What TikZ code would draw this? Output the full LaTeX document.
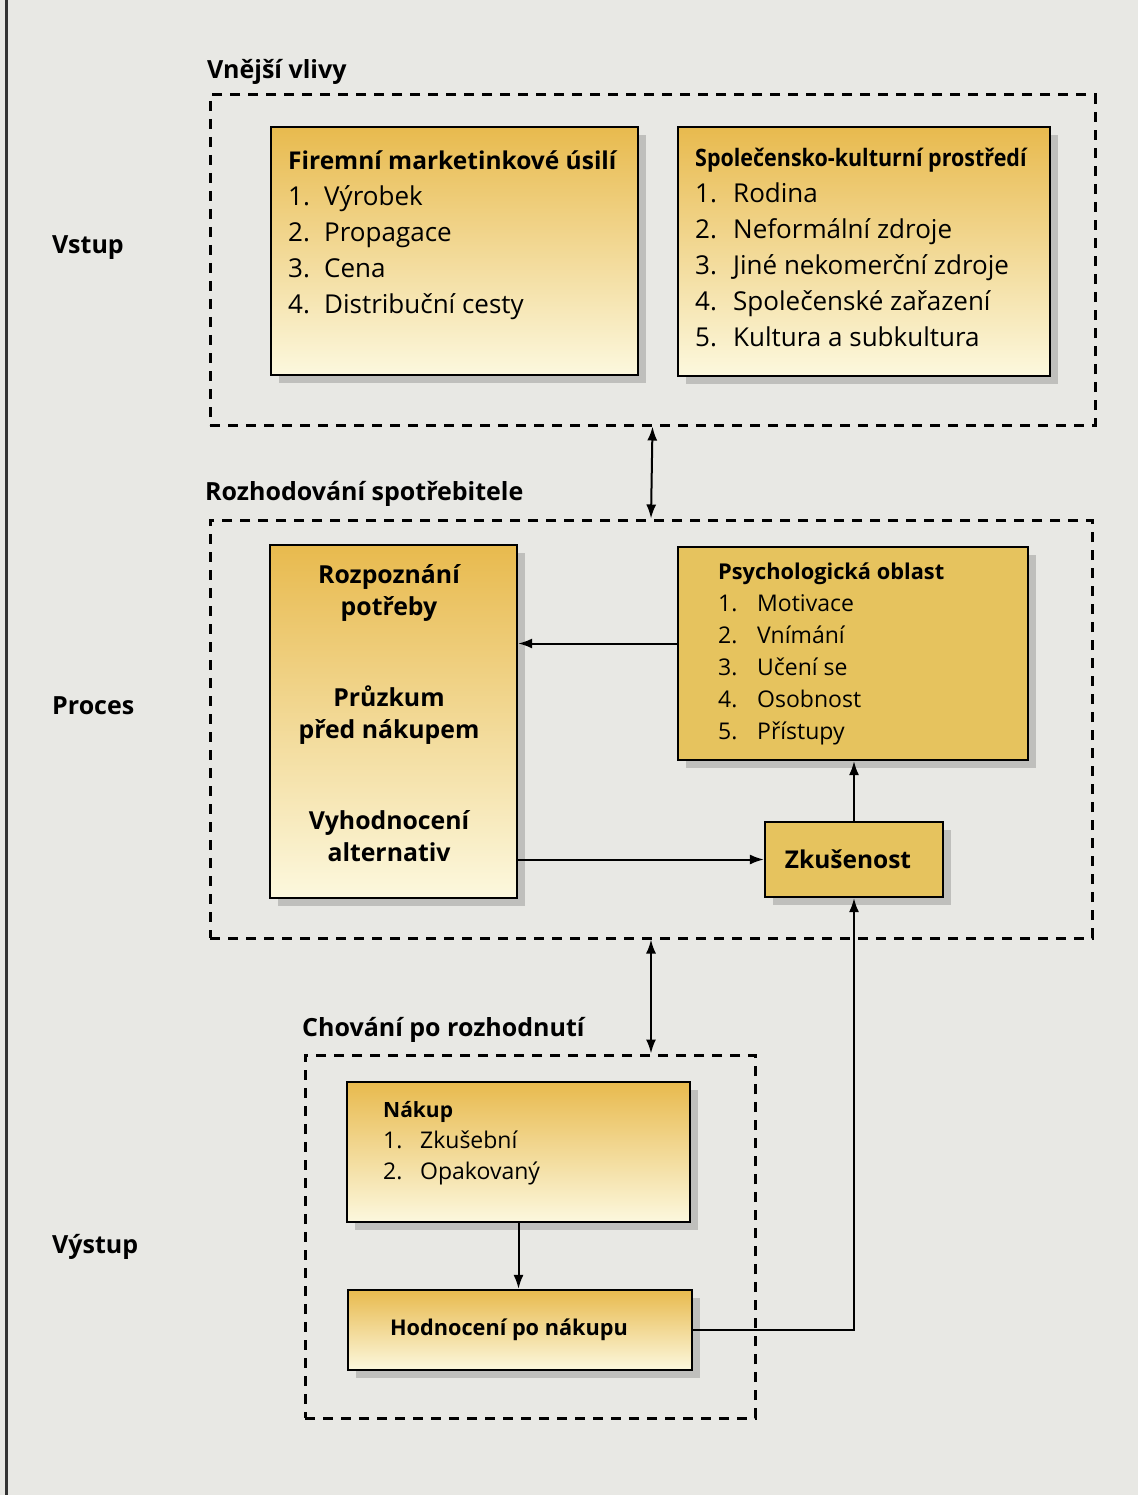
\documentclass[tikz,border=0pt]{standalone}
\usepackage{fontspec}
\setmainfont{Open Sans}
\usetikzlibrary{positioning,shadows,arrows.meta}
\usepackage{xcolor}
\definecolor{zlata}{HTML}{E8BA4E}
\definecolor{krem}{HTML}{FCF8DE}
\definecolor{psych}{HTML}{E6C35E}
\definecolor{pozadi}{HTML}{E8E8E4}
\newcommand{\polozka}[3][36pt]{\makebox[#1][l]{#2}#3}

\begin{document}
\begin{tikzpicture}[x=1pt,y=-1pt]
    \tikzstyle{box} = [rectangle, draw, line width=2.2pt, top color=zlata,
      bottom color=krem, inner sep=0pt,
      drop shadow={shadow xshift=8pt, shadow yshift=-8pt, opacity=.35, fill=black!55}]
    \tikzstyle{plny} = [box, top color=psych, bottom color=psych]
    \tikzstyle{skupina} = [rectangle, draw, line width=3pt,
      dash pattern=on 10pt off 8pt, inner sep=0pt]
    \tikzstyle{line} = [draw, line width=2pt, -{Latex[length=14pt,width=10pt]}]
    \tikzstyle{dvoj} = [draw, line width=2pt,
      {Latex[length=14pt,width=10pt]}-{Latex[length=14pt,width=10pt]}]
    \tikzstyle{popis} = [font=\fontsize{25}{30}\selectfont\bfseries, anchor=west, inner sep=0pt]
    \tikzstyle{seznam} = [align=left, anchor=north west, inner sep=0pt,
      font=\fontsize{26}{36}\selectfont]
    \tikzstyle{seznam2} = [seznam, font=\fontsize{23}{32}\selectfont]

    % Background
    \fill[pozadi] (0,0) rectangle (1138,1495);
    \useasboundingbox (0,0) rectangle (1138,1495);
    \draw[line width=3pt, black!80] (6,0) -- (6,1495);

    % Define groups
    \node[skupina, minimum width=885pt, minimum height=330pt] (vlivy) at (652.5,260) {};
    \node[skupina, minimum width=882pt, minimum height=418pt] (rozhod) at (651,729) {};
    \node[skupina, minimum width=450pt, minimum height=363pt] (chovani) at (530,1236.5) {};

    \node[popis] (vlivy-t) at (207,72) {Vnější vlivy};
    \node[popis] (rozhod-t) at (205,494) {Rozhodování spotřebitele};
    \node[popis] (chovani-t) at (302,1030) {Chování po rozhodnutí};

    \node[popis] (vstup) at (52,248) {Vstup};
    \node[popis] (proces) at (52,706) {Proces};
    \node[popis] (vystup) at (52,1247) {Výstup};

    % Define boxes
    \node[box, minimum width=367pt, minimum height=248pt] (firma) at (454.5,251) {};
    \node[box, minimum width=372pt, minimum height=249pt] (spol) at (864,251.5) {};
    \node[box, minimum width=247pt, minimum height=353pt] (rozp) at (393.5,721.5) {};
    \node[plny, minimum width=350pt, minimum height=213pt] (psych) at (853,653.5) {};
    \node[plny, minimum width=178pt, minimum height=75pt,
      font=\fontsize{24.5}{30}\selectfont\bfseries] (zkus) at (854,859.5) {\hspace*{-12pt}Zkušenost};
    \node[box, minimum width=343pt, minimum height=140pt] (nakup) at (518.5,1152) {};
    \node[box, minimum width=344pt, minimum height=80pt,
      font=\fontsize{21.7}{30}\selectfont\bfseries] (hodn) at (520,1330) {\hspace*{-22pt}Hodnocení po nákupu};

    % Texts in boxes
    \node[seznam] (firma-t) at (288,144) {\strut{\fontsize{24.5}{36}\selectfont\bfseries Firemní marketinkové úsilí}\\
      \polozka{1.}{Výrobek}\\ \polozka{2.}{Propagace}\\ \polozka{3.}{Cena}\\
      \polozka{4.}{Distribuční cesty}};
    \node[seznam] (spol-t) at (695,141) {\strut\scalebox{0.895}[1]{\fontsize{24}{36}\selectfont\bfseries Společensko-kulturní prostředí}\\
      \polozka[38pt]{1.}{Rodina}\\ \polozka[38pt]{2.}{Neformální zdroje}\\
      \polozka[38pt]{3.}{Jiné nekomerční zdroje}\\ \polozka[38pt]{4.}{Společenské zařazení}\\
      \polozka[38pt]{5.}{Kultura a subkultura}};
    \node[seznam2] (psych-t) at (718,557) {\strut{\fontsize{21.8}{32}\selectfont\bfseries Psychologická oblast}\\
      \polozka[39pt]{1.}{Motivace}\\ \polozka[39pt]{2.}{Vnímání}\\ \polozka[39pt]{3.}{Učení se}\\
      \polozka[39pt]{4.}{Osobnost}\\ \polozka[39pt]{5.}{Přístupy}};
    \node[seznam2, font=\fontsize{23}{31}\selectfont] (nakup-t) at (383,1096) {\strut{\fontsize{21}{31}\selectfont\bfseries Nákup}\\
      \polozka[37pt]{1.}{Zkušební}\\ \polozka[37pt]{2.}{Opakovaný}};
    \node[align=center, anchor=north, inner sep=0pt,
      font=\fontsize{24.8}{32}\selectfont\bfseries] (rozp-t) at (389,561)
      {\strut Rozpoznání\\ potřeby\\[59pt] Průzkum\\ před nákupem\\[59pt] Vyhodnocení\\ alternativ};

    % Draw arrows
    \draw[dvoj] (vlivy.south) -- (rozhod.north);
    \draw[dvoj] (rozhod.south) -- (rozhod.south |- chovani.north);
    \draw[line] ([yshift=10pt]psych.west) -- ([yshift=10pt]psych.west -| rozp.east);
    \draw[line] (rozp.east |- zkus.west) -- (zkus.west);
    \draw[line] (zkus.north) -- (zkus.north |- psych.south);
    \draw[line] (hodn.east) -| (zkus.south);
    \draw[line] (nakup.south) -- (nakup.south |- hodn.north);
\end{tikzpicture}
\end{document}
